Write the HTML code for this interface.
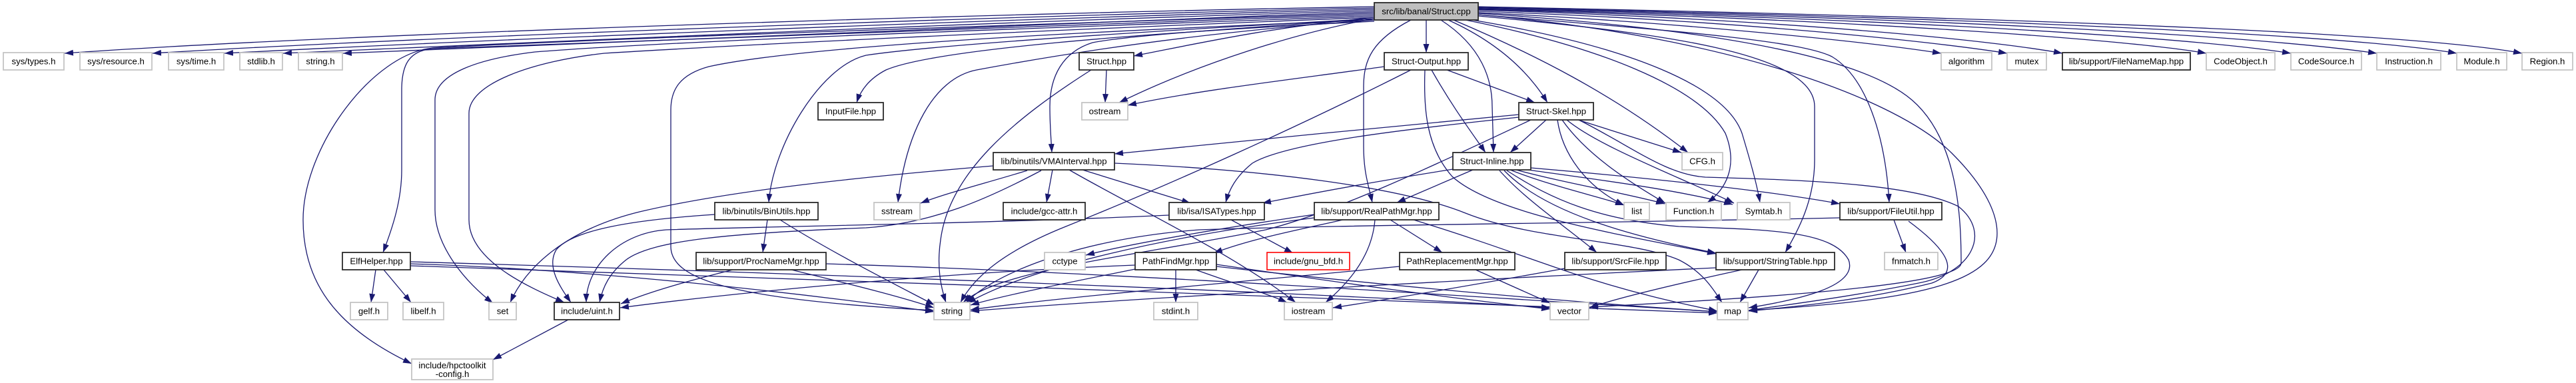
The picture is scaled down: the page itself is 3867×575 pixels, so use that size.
<!DOCTYPE html>
<html><head><meta charset="utf-8"><style>
html,body{margin:0;padding:0;background:#fff;}
svg{display:block;}
text{font-family:"Liberation Sans",Arial,sans-serif;font-size:13.2px;fill:#000;text-anchor:middle;}
.e{fill:none;stroke:#191970;stroke-width:1.3;marker-end:url(#a);}
.g{fill:#fff;stroke:#c4c4c4;stroke-width:1.8;}
.b{fill:#fff;stroke:#2a2a2a;stroke-width:1.8;}
.r{fill:#fff;stroke:#ff0000;stroke-width:1.6;}
.root{fill:#bfbfbf;stroke:#2a2a2a;stroke-width:1.8;}
</style></head><body>
<svg width="3867" height="575" viewBox="0 0 3867 575" xmlns="http://www.w3.org/2000/svg">
<defs><marker id="a" markerUnits="userSpaceOnUse" markerWidth="14" markerHeight="10" refX="13" refY="5" orient="auto"><path d="M0,0.5 L13,5 L0,9.5 z" fill="#191970"/></marker></defs>
<rect width="3867" height="575" fill="#fff"/>
<g>
<!-- root to left row1 -->
<path class="e" d="M2063,10 C1500,20 520,50 97,80"/>
<path class="e" d="M2063,12 C1500,24 620,56 229,80"/>
<path class="e" d="M2063,14 C1500,28 720,60 337,80"/>
<path class="e" d="M2063,16 C1500,32 820,63 425,80"/>
<path class="e" d="M2063,18 C1500,36 920,65 515,80"/>
<path class="e" d="M2063,20 C1500,38 900,58 650,72 C560,80 455,220 455,330 C455,420 500,490 618,546"/>
<path class="e" d="M2063,22 C1500,40 900,60 650,73 C612,76 603,100 603,135 L603,255 C603,300 590,340 575,379"/>
<path class="e" d="M2063,24 C1500,44 1000,62 803,78 C720,88 653,110 653,150 L653,315 C653,370 700,425 740,455"/>
<path class="e" d="M2063,26 C1500,48 1100,68 907,80 C800,92 704,125 704,170 L704,330 C704,390 790,430 847,454"/>
<path class="e" d="M2063,28 C1700,48 1400,68 1300,83 C1230,100 1160,220 1154,304"/>
<path class="e" d="M2063,30 C1600,48 1200,70 1064,100 C1020,112 1007,135 1007,165 L1007,370 C1007,420 1100,450 1402,466"/>
<path class="e" d="M2063,32 C1700,50 1400,75 1330,105 C1305,118 1292,135 1286,154"/>
<path class="e" d="M2063,28 C1900,40 1700,52 1640,64 C1595,78 1576,115 1576,160 C1576,190 1578,210 1579,229"/>
<path class="e" d="M2063,30 C1800,48 1600,80 1466,105 C1400,118 1360,200 1348,304"/>
<path class="e" d="M2063,26 C1900,42 1800,65 1702,84"/>
<path class="e" d="M2063,28 C1950,48 1800,95 1680,154"/>
<path class="e" d="M2141,30 L2141,79"/>
<path class="e" d="M2118,30 C2060,60 2047,90 2047,130 L2047,220 C2047,260 2055,280 2060,304"/>
<path class="e" d="M2163,30 C2225,70 2240,120 2240,160 L2242,229"/>
<path class="e" d="M2174,30 C2240,60 2290,100 2323,154"/>
<path class="e" d="M2182,30 C2300,80 2420,140 2534,229"/>
<path class="e" d="M2200,30 C2400,70 2550,130 2590,200 C2610,250 2590,285 2563,304"/>
<path class="e" d="M2210,30 C2450,70 2590,130 2615,200 C2630,250 2638,280 2642,304"/>
<path class="e" d="M2219,24 C2500,50 2724,80 2724,160 L2724,240 C2724,300 2700,345 2680,379"/>
<path class="e" d="M2219,22 C2500,45 2700,60 2750,85 C2800,115 2830,200 2836,304"/>
<path class="e" d="M2219,20 C2600,45 2800,90 2870,150 C2940,210 2944,330 2944,395 C2944,425 2700,445 2386,461"/>
<path class="e" d="M2219,22 C2600,55 2850,150 2930,230 C2990,290 2998,330 2998,350 C2998,420 2900,450 2625,466"/>
<path class="e" d="M2219,19 C2500,32 2800,62 2914,80"/>
<path class="e" d="M2219,17 C2600,30 2900,62 3013,80"/>
<path class="e" d="M2219,15 C2700,30 3000,62 3096,80"/>
<path class="e" d="M2219,14 C2800,30 3200,60 3312,80"/>
<path class="e" d="M2219,13 C2900,30 3300,58 3439,80"/>
<path class="e" d="M2219,12 C3000,30 3400,56 3568,80"/>
<path class="e" d="M2219,11 C3100,30 3550,56 3688,80"/>
<path class="e" d="M2219,10 C3200,30 3650,54 3786,80"/>
<!-- Struct.hpp -->
<path class="e" d="M1661,105 L1659,154"/>
<path class="e" d="M1638,105 C1520,180 1425,260 1412,360 C1406,400 1412,430 1420,454"/>
<!-- Struct-Output -->
<path class="e" d="M2078,100 C1950,118 1800,135 1693,158"/>
<path class="e" d="M2118,105 C1950,190 1750,280 1600,340 C1500,380 1460,420 1442,454"/>
<path class="e" d="M2172,105 L2304,154"/>
<path class="e" d="M2149,105 C2180,160 2210,200 2230,229"/>
<path class="e" d="M2139,105 C2137,160 2140,220 2180,265 C2240,320 2420,350 2576,381"/>
<!-- Struct-Skel -->
<path class="e" d="M2280,172 C2100,190 1850,212 1673,231"/>
<path class="e" d="M2280,176 C2100,195 1930,215 1880,245 C1855,265 1845,285 1840,304"/>
<path class="e" d="M2321,180 L2267,229"/>
<path class="e" d="M2369,180 L2524,229"/>
<path class="e" d="M2338,180 C2345,230 2380,280 2438,308"/>
<path class="e" d="M2345,180 C2380,230 2440,270 2500,305"/>
<path class="e" d="M2352,180 C2400,220 2520,265 2603,305"/>
<path class="e" d="M2370,180 C2450,220 2500,262 2560,266 C2700,270 2870,275 2940,310 C2990,350 2960,410 2880,425 C2780,445 2700,455 2625,466"/>
<path class="e" d="M2298,180 C2150,250 2000,320 1900,345 C1700,385 1500,405 1446,454"/>
<!-- Struct-Inline -->
<path class="e" d="M2211,255 L2097,304"/>
<path class="e" d="M2181,254 C2080,270 1970,290 1895,305"/>
<path class="e" d="M2267,255 C2330,280 2400,295 2438,308"/>
<path class="e" d="M2276,255 C2350,275 2440,290 2499,306"/>
<path class="e" d="M2294,255 C2400,270 2520,285 2601,307"/>
<path class="e" d="M2298,252 C2450,265 2650,285 2762,306"/>
<path class="e" d="M2251,256 C2290,300 2350,340 2397,379"/>
<path class="e" d="M2262,256 C2330,300 2400,330 2520,340 C2650,345 2750,345 2775,390 C2790,430 2700,450 2625,462"/>
<path class="e" d="M2258,256 C2320,320 2450,355 2576,380"/>
<!-- RealPathMgr -->
<path class="e" d="M2064,330 C2060,380 2030,420 1990,454"/>
<path class="e" d="M2087,330 L2165,379"/>
<path class="e" d="M2122,330 C2220,360 2300,390 2360,410 C2450,440 2520,455 2578,467"/>
<path class="e" d="M2016,330 C1950,345 1880,358 1822,380"/>
<path class="e" d="M1973,322 C1850,340 1700,365 1630,383"/>
<path class="e" d="M1973,327 C1750,355 1550,400 1452,455"/>
<!-- VMAInterval -->
<path class="e" d="M1580,255 L1571,304"/>
<path class="e" d="M1542,256 C1480,275 1420,290 1382,305"/>
<path class="e" d="M1625,255 L1787,305"/>
<path class="e" d="M1605,255 C1700,310 1850,380 1945,454"/>
<path class="e" d="M1673,245 C1900,255 2100,280 2200,320 C2300,360 2450,360 2520,390 C2560,410 2575,440 2585,454"/>
<path class="e" d="M1563,256 C1480,300 1400,335 1300,342 C1100,350 980,360 940,390 C915,410 905,430 900,454"/>
<path class="e" d="M1491,249 C1300,265 1100,285 960,318 C850,345 790,400 766,454"/>
<!-- ISATypes -->
<path class="e" d="M1848,330 L1941,380"/>
<path class="e" d="M1755,323 C1500,335 1150,340 1000,345 C930,350 880,400 880,454"/>
<!-- BinUtils -->
<path class="e" d="M1152,330 L1145,379"/>
<path class="e" d="M1073,322 C950,330 860,345 835,375 C820,400 840,430 857,454"/>
<path class="e" d="M1171,330 C1250,380 1350,430 1403,458"/>
<!-- ProcNameMgr -->
<path class="e" d="M1100,405 C1020,425 970,440 932,456"/>
<path class="e" d="M1188,405 C1290,430 1350,445 1402,462"/>
<path class="e" d="M1240,396 C1700,410 2200,445 2578,468"/>
<!-- ElfHelper -->
<path class="e" d="M564,405 L557,454"/>
<path class="e" d="M576,405 L617,454"/>
<path class="e" d="M616,393 C1200,410 2000,440 2327,462"/>
<path class="e" d="M616,396 C900,405 1200,440 1402,468"/>
<path class="e" d="M616,399 C1200,420 2200,452 2578,470"/>
<!-- PathFindMgr -->
<path class="e" d="M1765,405 L1765,454"/>
<path class="e" d="M1795,405 C1850,425 1900,440 1932,454"/>
<path class="e" d="M1704,404 C1600,425 1500,445 1457,458"/>
<path class="e" d="M1826,400 C2000,420 2300,450 2578,468"/>
<path class="e" d="M1826,397 C1950,415 2150,445 2327,464"/>
<path class="e" d="M1704,398 C1400,410 1100,440 931,462"/>
<!-- PathReplacementMgr -->
<path class="e" d="M2215,405 L2327,455"/>
<path class="e" d="M2101,400 C1900,420 1600,445 1457,465"/>
<!-- SrcFile -->
<path class="e" d="M2349,403 C2200,430 2080,450 2001,462"/>
<!-- StringTable -->
<path class="e" d="M2640,405 L2612,454"/>
<path class="e" d="M2615,405 C2500,430 2420,450 2386,462"/>
<path class="e" d="M2576,402 C2200,420 1700,448 1457,467"/>
<!-- FileUtil -->
<path class="e" d="M2843,330 L2861,379"/>
<path class="e" d="M2865,332 C2930,380 2940,410 2900,425 C2800,450 2700,460 2625,467"/>
<path class="e" d="M2762,327 C2400,335 2000,338 1800,345 C1600,360 1480,420 1450,455"/>
<!-- uint.h -> config -->
<path class="e" d="M853,480 L740,540"/>
</g>
<g>
<rect class="root" x="2063" y="4" width="156" height="26"/><text x="2141" y="21.5">src/lib/banal/Struct.cpp</text>

<rect class="g" x="5" y="79" width="91" height="26"/><text x="50.5" y="96.5">sys/types.h</text>
<rect class="g" x="120" y="79" width="108" height="26"/><text x="174" y="96.5">sys/resource.h</text>
<rect class="g" x="253" y="79" width="83" height="26"/><text x="294.5" y="96.5">sys/time.h</text>
<rect class="g" x="360" y="79" width="64" height="26"/><text x="392" y="96.5">stdlib.h</text>
<rect class="g" x="448" y="79" width="66" height="26"/><text x="481" y="96.5">string.h</text>
<rect class="b" x="1620" y="79" width="82" height="26"/><text x="1661" y="96.5">Struct.hpp</text>
<rect class="b" x="2078" y="79" width="126" height="26"/><text x="2141" y="96.5">Struct-Output.hpp</text>
<rect class="g" x="2914" y="79" width="76" height="26"/><text x="2952" y="96.5">algorithm</text>
<rect class="g" x="3013" y="79" width="59" height="26"/><text x="3042.5" y="96.5">mutex</text>
<rect class="b" x="3096" y="79" width="192" height="26"/><text x="3192" y="96.5">lib/support/FileNameMap.hpp</text>
<rect class="g" x="3312" y="79" width="103" height="26"/><text x="3363.5" y="96.5">CodeObject.h</text>
<rect class="g" x="3439" y="79" width="106" height="26"/><text x="3492" y="96.5">CodeSource.h</text>
<rect class="g" x="3568" y="79" width="96" height="26"/><text x="3616" y="96.5">Instruction.h</text>
<rect class="g" x="3688" y="79" width="75" height="26"/><text x="3725.5" y="96.5">Module.h</text>
<rect class="g" x="3786" y="79" width="76" height="26"/><text x="3824" y="96.5">Region.h</text>

<rect class="b" x="1228" y="154" width="98" height="26"/><text x="1277" y="171.5">InputFile.hpp</text>
<rect class="g" x="1624" y="154" width="69" height="26"/><text x="1658.5" y="171.5">ostream</text>
<rect class="b" x="2280" y="154" width="112" height="26"/><text x="2336" y="171.5">Struct-Skel.hpp</text>

<rect class="b" x="1491" y="229" width="182" height="26"/><text x="1582" y="246.5">lib/binutils/VMAInterval.hpp</text>
<rect class="b" x="2181" y="229" width="117" height="26"/><text x="2239.5" y="246.5">Struct-Inline.hpp</text>
<rect class="g" x="2525" y="229" width="61" height="26"/><text x="2555.5" y="246.5">CFG.h</text>

<rect class="b" x="1073" y="304" width="155" height="26"/><text x="1150.5" y="321.5">lib/binutils/BinUtils.hpp</text>
<rect class="g" x="1312" y="304" width="69" height="26"/><text x="1346.5" y="321.5">sstream</text>
<rect class="b" x="1506" y="304" width="123" height="26"/><text x="1567.5" y="321.5">include/gcc-attr.h</text>
<rect class="b" x="1755" y="304" width="143" height="26"/><text x="1826.5" y="321.5">lib/isa/ISATypes.hpp</text>
<rect class="b" x="1973" y="304" width="187" height="26"/><text x="2066.5" y="321.5">lib/support/RealPathMgr.hpp</text>
<rect class="g" x="2438" y="304" width="38" height="26"/><text x="2457" y="321.5">list</text>
<rect class="g" x="2501" y="304" width="83" height="26"/><text x="2542.5" y="321.5">Function.h</text>
<rect class="g" x="2608" y="304" width="79" height="26"/><text x="2647.5" y="321.5">Symtab.h</text>
<rect class="b" x="2762" y="304" width="153" height="26"/><text x="2838.5" y="321.5">lib/support/FileUtil.hpp</text>

<rect class="b" x="514" y="379" width="102" height="26"/><text x="565" y="396.5">ElfHelper.hpp</text>
<rect class="b" x="1045" y="379" width="195" height="26"/><text x="1142.5" y="396.5">lib/support/ProcNameMgr.hpp</text>
<rect class="g" x="1568" y="379" width="61" height="26"/><text x="1598.5" y="396.5">cctype</text>
<rect class="b" x="1704" y="379" width="122" height="26"/><text x="1765" y="396.5">PathFindMgr.hpp</text>
<rect class="r" x="1902" y="379" width="124" height="26"/><text x="1964" y="396.5">include/gnu_bfd.h</text>
<rect class="b" x="2101" y="379" width="173" height="26"/><text x="2187.5" y="396.5">PathReplacementMgr.hpp</text>
<rect class="b" x="2349" y="379" width="152" height="26"/><text x="2425" y="396.5">lib/support/SrcFile.hpp</text>
<rect class="b" x="2576" y="379" width="178" height="26"/><text x="2665" y="396.5">lib/support/StringTable.hpp</text>
<rect class="g" x="2829" y="379" width="80" height="26"/><text x="2869" y="396.5">fnmatch.h</text>

<rect class="g" x="526" y="454" width="56" height="26"/><text x="554" y="471.5">gelf.h</text>
<rect class="g" x="605" y="454" width="61" height="26"/><text x="635.5" y="471.5">libelf.h</text>
<rect class="g" x="734" y="454" width="41" height="26"/><text x="754.5" y="471.5">set</text>
<rect class="b" x="832" y="454" width="98" height="26"/><text x="881" y="471.5">include/uint.h</text>
<rect class="g" x="1402" y="454" width="54" height="26"/><text x="1429" y="471.5">string</text>
<rect class="g" x="1732" y="454" width="66" height="26"/><text x="1765" y="471.5">stdint.h</text>
<rect class="g" x="1928" y="454" width="72" height="26"/><text x="1964" y="471.5">iostream</text>
<rect class="g" x="2327" y="454" width="58" height="26"/><text x="2356" y="471.5">vector</text>
<rect class="g" x="2578" y="454" width="46" height="26"/><text x="2601" y="471.5">map</text>

<rect class="g" x="618" y="539" width="122" height="31"/><text x="679" y="553">include/hpctoolkit</text><text x="679" y="566">-config.h</text>
</g>
</svg>
</body></html>
